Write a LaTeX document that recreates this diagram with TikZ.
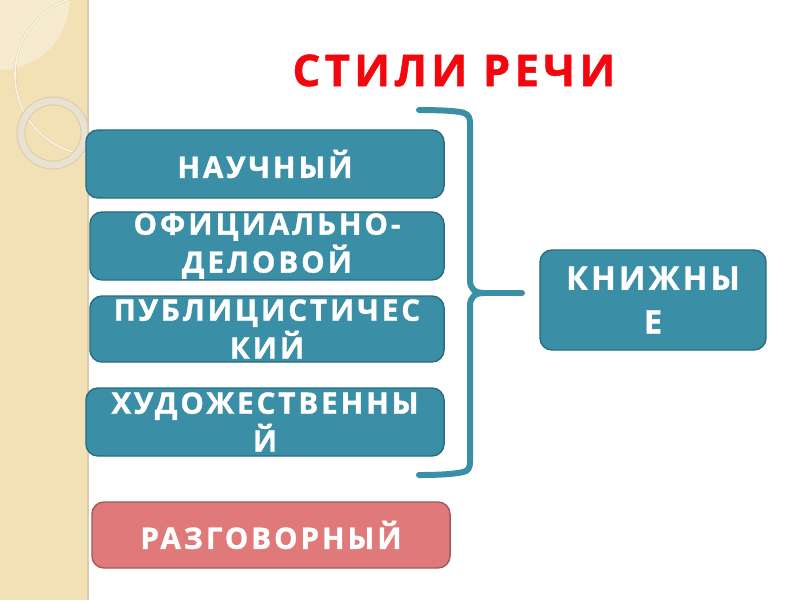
\documentclass[tikz,border=0pt]{standalone}
\usepackage{fontspec}
\setmainfont{Open Sans}
\newfontfamily\stylefont[LetterSpace=10, BoldFeatures={FakeBold=1.2}]{Open Sans}
\newfontfamily\titlefont[LetterSpace=10, BoldFeatures={FakeBold=1.2}]{Open Sans}
\usetikzlibrary{positioning}
\definecolor{StyleTeal}{HTML}{3A8FA6}
\definecolor{StyleTealDark}{HTML}{2B6B7D}
\definecolor{StylePink}{HTML}{E07A7A}
\definecolor{StylePinkDark}{HTML}{9E5A5E}
\definecolor{StyleRed}{HTML}{F2070F}
\definecolor{StripBeige}{HTML}{F3E1B6}
\definecolor{StripLight}{HTML}{F7EBCF}
\definecolor{StripCream}{HTML}{FBF4E0}
\definecolor{StripRing}{HTML}{E9E2D1}
\definecolor{StripRingEdge}{HTML}{D8CBAE}
\tikzset{
    stylebox/.style={
        draw=StyleTealDark,
        fill=StyleTeal,
        rounded corners=0.3cm,
        line width=1pt,
        minimum width=8.95cm,
        minimum height=1.7cm,
        inner sep=0pt,
        text=white,
        font=\stylefont\bfseries\fontsize{21}{27}\selectfont,
        align=center
    },
    talkbox/.style={
        stylebox,
        draw=StylePinkDark,
        fill=StylePink,
        minimum height=1.65cm
    },
    bookbox/.style={
        stylebox,
        minimum width=5.65cm,
        minimum height=2.5cm,
        font=\stylefont\bfseries\fontsize{23}{31}\selectfont
    },
    bracket/.style={
        draw=StyleTeal,
        line width=0.15cm,
        line cap=round
    }
}

\begin{document}
\begin{tikzpicture}[x=0.025cm, y=-0.025cm]
        \useasboundingbox (0,0) rectangle (800,600);

        % Left strip
        \fill[StripBeige] (0,0) rectangle (88,600);
        \begin{scope}
            \clip (0,0) rectangle (88,600);
            \fill[StripLight] (0,0) -- (70,0) .. controls (68,40) and (40,68) .. (0,70) -- cycle;
            \draw[StripRingEdge, line width=0.06cm] (95,75) circle (2cm);
            \draw[StripCream, line width=0.04cm] (95,75) circle (2cm);
            \draw[StripRingEdge, line width=0.22cm] (53,133) circle (0.8cm);
            \draw[StripRing, line width=0.17cm] (53,133) circle (0.8cm);
        \end{scope}
        \draw[StripRingEdge, line width=0.03cm] (88,0) -- (88,600);

        % Title
        \node[text=StyleRed, font=\titlefont\bfseries\fontsize{31}{34}\selectfont, anchor=base] (title) at (454,86) {СТИЛИ РЕЧИ};

        % Book styles
        \node[stylebox] (science) at (265,164) {НАУЧНЫЙ};
        \node[stylebox, minimum width=8.85cm] (official) at (267,246) {ОФИЦИАЛЬНО-\\ДЕЛОВОЙ};
        \node[stylebox, minimum width=8.85cm, minimum height=1.65cm] (journal) at (267,329) {ПУБЛИЦИСТИЧЕС\\КИЙ};
        \node[stylebox] (fiction) at (265,422) {ХУДОЖЕСТВЕННЫ\\Й};

        % Spoken style
        \node[talkbox] (spoken) at (271,535) {РАЗГОВОРНЫЙ};

        % Brace and group
        \draw[bracket] (419,110) .. controls (440,110) and (459,111) .. (464,113)
            .. controls (469,115) and (470,118) .. (470,124) -- (470,280)
            .. controls (470,289) and (475,293) .. (484,293)
            .. controls (475,293) and (470,297) .. (470,306) -- (470,462)
            .. controls (470,468) and (468,471) .. (463,472)
            .. controls (455,474) and (440,475) .. (419,475);
        \draw[bracket] (480,293) -- (522,293);
        \node[bookbox] (books) at (653,300) {КНИЖНЫ\\Е};
    \end{tikzpicture}
\end{document}
